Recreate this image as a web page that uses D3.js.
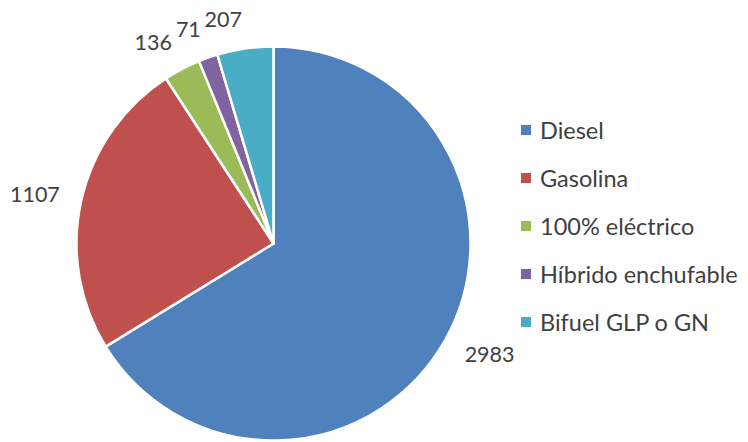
<!DOCTYPE html>
<html><head><meta charset="utf-8">
<script src="https://cdn.jsdelivr.net/npm/d3@7"></script>
<style>html,body{margin:0;padding:0;background:#fff;}svg{display:block;}</style>
</head><body>
<svg id="chart" width="748" height="442"></svg>
<script>
const categories = ["Diesel", "Gasolina", "100% eléctrico", "Híbrido enchufable", "Bifuel GLP o GN"];
const values = [2983, 1107, 136, 71, 207];
const colors = ["#4F81BD", "#C0504D", "#9BBB59", "#8064A2", "#4BACC6"];

const svg = d3.select("#chart");
const cx = 273.5, cy = 243.5, r = 197;
const data = categories.map((c, i) => ({cat: c, value: values[i], color: colors[i]}));
const pie = d3.pie().value(d => d.value).sort(null);
const arc = d3.arc().innerRadius(0).outerRadius(r);
const arcs = pie(data);
const g = svg.append("g").attr("transform", `translate(${cx},${cy})`);
g.selectAll("path").data(arcs).join("path")
  .attr("d", arc).attr("fill", d => d.data.color)
  .attr("stroke", "#fff").attr("stroke-width", 2.5).attr("stroke-linejoin", "round");

const labelR = r + 22;
const fontLbl = "Lato, 'Open Sans', sans-serif";
arcs.forEach(a => {
  const m = (a.startAngle + a.endAngle) / 2;
  const ux = Math.sin(m), uy = -Math.cos(m);
  const ax = labelR * ux, ay = labelR * uy;
  const t = g.append("text").text(a.data.value)
    .attr("font-family", fontLbl).attr("font-size", 21.5).attr("fill", "#404040");
  const w = t.node().getBBox().width, h = 16;
  const left = ux > 0 ? ax : ax - w;
  const midY = ay + uy * h / 2;
  t.attr("x", left).attr("y", midY).attr("dominant-baseline", "central");
});

const leg = svg.append("g");
categories.forEach((c, i) => {
  const y = 130 + i * 48;
  leg.append("rect").attr("x", 521).attr("y", y - 5).attr("width", 10).attr("height", 10).attr("fill", colors[i]);
  leg.append("text").attr("x", 540).attr("y", y).attr("dominant-baseline", "central")
    .attr("font-family", fontLbl).attr("font-size", 23.5).attr("fill", "#404040").text(c);
});
</script>
</body></html>
